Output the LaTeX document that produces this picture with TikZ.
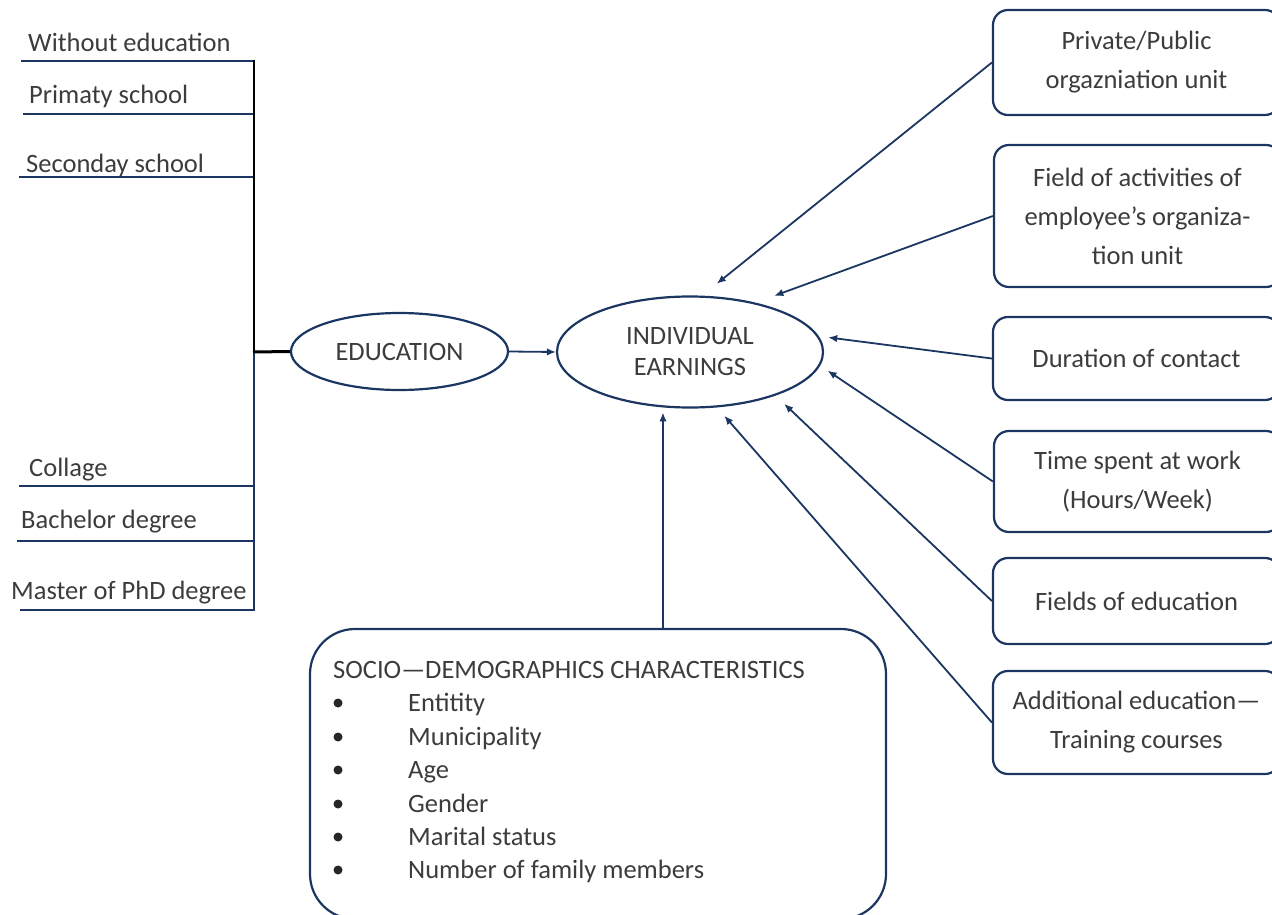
\documentclass[tikz,border=0pt]{standalone}
\usepackage{fontspec}
\setmainfont{Carlito}
\usetikzlibrary{shapes.geometric,arrows.meta}
\definecolor{navy}{RGB}{28,54,98}
\definecolor{txt}{RGB}{60,60,60}
\begin{document}
\begin{tikzpicture}[x=1pt,y=-1pt,
  every node/.style={text=txt},
  basefont/.style={font=\fontsize{26.5}{31}\selectfont},
  lbl/.style={basefont, anchor=base west, inner sep=0pt},
  uline/.style={draw=navy, line width=2.2pt},
  rbox/.style={draw=navy, line width=2.2pt, rounded corners=15pt, minimum width=287pt,
    align=center, inner sep=0pt, font=\fontsize{26.5}{39}\selectfont},
  ell/.style={ellipse, draw=navy, line width=2.2pt, inner sep=0pt, align=center,
    font=\fontsize{26.5}{31}\selectfont},
  arr/.style={draw=navy, line width=1.8pt, -{Latex[length=9pt,width=7.5pt]}}
]
\useasboundingbox (0,0) rectangle (1272,915);
\clip (0,0) rectangle (1272,915);

% left list
\node[lbl] (t1) at (28,52) {Without education};
\node[lbl] (t2) at (29,104) {Primaty school};
\node[lbl] (t3) at (26,172) {Seconday school};
\node[lbl] (t4) at (29,476) {Collage};
\node[lbl] (t5) at (21,528) {Bachelor degree};
\node[lbl] (t6) at (11,599) {Master of PhD degree};

\coordinate (bt) at (254,60);
\coordinate (bj) at (254,352);
\coordinate (bb) at (254,611);

\draw[uline] (21,61) -- (254,61);
\draw[uline] (23,114) -- (254,114);
\draw[uline] (19,177) -- (254,177);
\draw[uline] (19,486) -- (254,486);
\draw[uline] (17,541) -- (254,541);
\draw[uline] (20,610) -- (254,610);

% ellipses
\node[ell, minimum width=217pt, minimum height=77pt] (edu) at (399.5,351.5) {EDUCATION};
\node[ell, minimum width=266pt, minimum height=111pt] (earn) at (690,352) {INDIVIDUAL\\EARNINGS};

% bus
\draw[navy, line width=2.2pt] (bj) -- (bb);
\draw[black, line width=2.2pt] (bt) -- (bj);
\draw[black, line width=3pt] (253,352) -- (edu.west);

\draw[arr] (edu.east) -- (earn.west);

% right boxes
\node[rbox, minimum height=105pt] (b1) at (1136.5,62.5) {Private/Public\\orgazniation unit};
\node[rbox, minimum height=142pt] (b2) at (1137.5,216) {Field of activities of\\employee’s organiza-\\tion unit};
\node[rbox, minimum height=83pt] (b3) at (1136.5,358.5) {Duration of contact};
\node[rbox, minimum height=101pt] (b4) at (1137.5,481.5) {Time spent at work\\(Hours/Week)};
\node[rbox, minimum height=86pt] (b5) at (1136.5,601) {Fields of education};
\node[rbox, minimum height=103pt] (b6) at (1136.5,722.5) {Additional education—\\Training courses};

\draw[arr, shorten >=19pt] (b1.west) -- (earn.78);
\draw[arr, shorten >=20pt] (b2.west) -- (earn.37);
\draw[arr, shorten >=9.5pt] (b3.west) -- (earn.7.5);
\draw[arr, shorten >=9pt] (b4.west) -- (earn.-6.3);
\draw[arr, shorten >=12pt] (b5.west) -- (earn.-27.2);
\draw[arr, shorten >=11pt] (b6.west) -- (earn.-64.3);

% socio-demographics box
\node[draw=navy, line width=2.2pt, rounded corners=45pt, minimum width=576pt,
  minimum height=290pt, inner sep=0pt] (soc) at (598,774) {};
\coordinate (e7) at ([yshift=-5pt]earn.244);
\draw[arr] (soc.north -| e7) -- (e7);

\node[lbl] (sh) at (333,678) {SOCIO—DEMOGRAPHICS CHARACTERISTICS};
\foreach \y/\t [count=\i] in {711/Entitity, 745/Municipality, 778/Age, 812/Gender, 845/Marital status, 878/Number of family members}{
  \fill[black!85] (338,\y-8) circle (4.5pt);
  \node[lbl] (si\i) at (408,\y) {\t};
}
\end{tikzpicture}
\end{document}
